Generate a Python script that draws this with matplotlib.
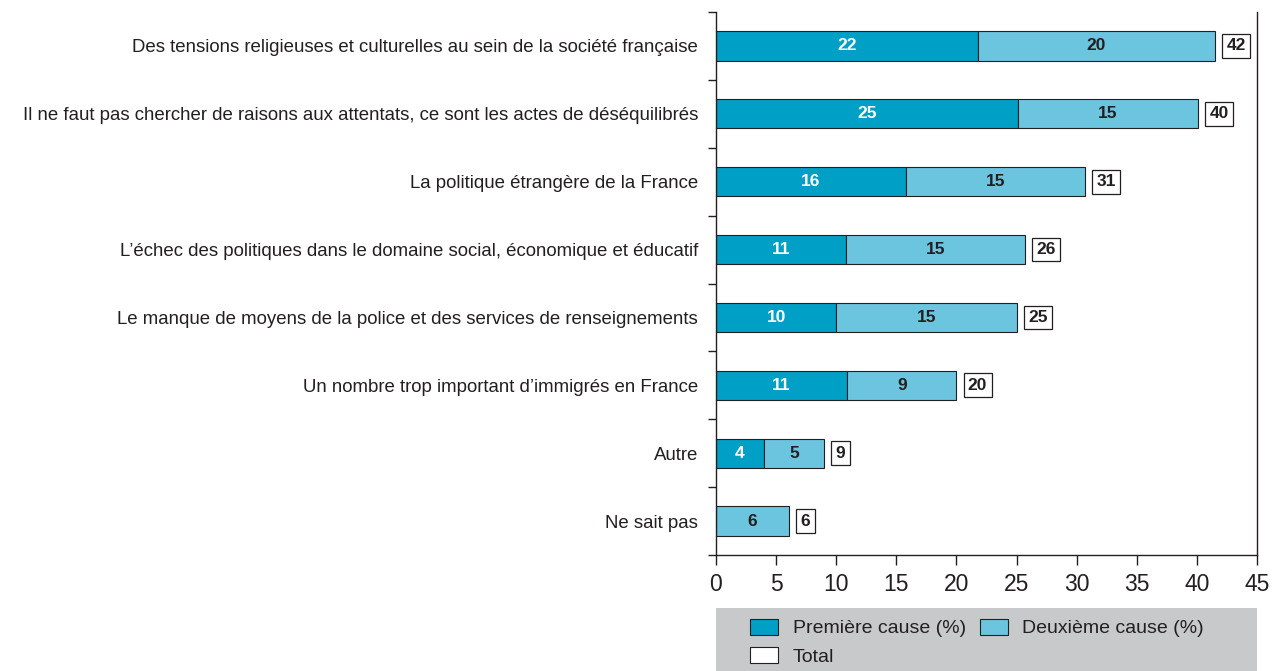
import numpy as np
import matplotlib.pyplot as plt
from matplotlib.patches import Patch, Rectangle

plt.rcParams['font.family'] = ['Liberation Sans', 'DejaVu Sans']

categories = [
    "Des tensions religieuses et culturelles au sein de la société française",
    "Il ne faut pas chercher de raisons aux attentats, ce sont les actes de déséquilibrés",
    "La politique étrangère de la France",
    "L\u2019échec des politiques dans le domaine social, économique et éducatif",
    "Le manque de moyens de la police et des services de renseignements",
    "Un nombre trop important d\u2019immigrés en France",
    "Autre",
    "Ne sait pas",
]
# bar lengths
premiere = [21.8, 25.1, 15.8, 10.8, 10.0, 10.9, 4.0, 0.0]
deuxieme = [19.7, 15.0, 14.9, 14.9, 15.0, 9.1, 5.0, 6.1]
# printed labels
premiere_lbl = [22, 25, 16, 11, 10, 11, 4, None]
deuxieme_lbl = [20, 15, 15, 15, 15, 9, 5, 6]
total_lbl = [42, 40, 31, 26, 25, 20, 9, 6]

dark = '#00a0c6'
light = '#6cc5de'
ink = '#231f20'

fig = plt.figure(figsize=(12.75, 6.71), dpi=100)
ax = fig.add_axes([716/1275, 1-555/671, (1257-716)/1275, (555-12)/671])

y = np.arange(len(categories))
p1 = np.array(premiere)
p2 = np.array(deuxieme)
h = 0.43
for i in range(len(y)):
    if p1[i] > 0:
        ax.barh(y[i], p1[i], height=h, color=dark, edgecolor=ink, linewidth=0.8)
    ax.barh(y[i], p2[i], left=p1[i], height=h, color=light, edgecolor=ink, linewidth=0.8)
    if premiere_lbl[i] is not None:
        ax.text(p1[i]/2, y[i], str(premiere_lbl[i]), ha='center', va='center',
                color='white', fontsize=12.5, fontweight='bold')
    ax.text(p1[i] + p2[i]/2, y[i], str(deuxieme_lbl[i]), ha='center', va='center',
            color=ink, fontsize=12.5, fontweight='bold')
    ax.text(p1[i] + p2[i] + 0.95, y[i], str(total_lbl[i]), ha='left', va='center',
            color=ink, fontsize=12.5, fontweight='bold',
            bbox=dict(boxstyle='square,pad=0.25', fc='white', ec=ink, lw=0.9))

ax.set_xlim(0, 45)
ax.set_ylim(len(categories) - 0.5, -0.5)
ax.set_xticks(np.arange(0, 46, 5))
ax.set_yticks(np.arange(-0.5, len(categories), 1))
ax.set_yticklabels([])
ax.set_yticks(y, minor=True)
ax.set_yticklabels(categories, minor=True, fontsize=13.4, color=ink)
ax.tick_params(axis='y', which='minor', length=0, pad=13)
ax.tick_params(axis='y', which='major', length=6, width=1, color=ink, direction='out')
ax.tick_params(axis='x', length=7, width=1, color=ink, labelsize=16.5, labelcolor=ink, pad=6)
ax.spines['top'].set_visible(False)
for s in ['left', 'right', 'bottom']:
    ax.spines[s].set_color(ink)
    ax.spines[s].set_linewidth(1)

# grey legend panel
fig.patches.append(Rectangle((716/1275, 0), (1257-716)/1275, 1-608/671,
                             transform=fig.transFigure, fc='#c8c9cb', ec='none', zorder=0))
handles = [Patch(fc=dark, ec=ink, lw=0.8), Patch(fc='white', ec=ink, lw=0.8),
           Patch(fc=light, ec=ink, lw=0.8)]
labels = ['Première cause (%)', 'Total', 'Deuxième cause (%)']
fig.legend(handles, labels, loc='upper left', bbox_to_anchor=(750/1275, 1-619/671),
           ncol=2, frameon=False, fontsize=14, handlelength=1.45, handleheight=0.85,
           columnspacing=0.7, handletextpad=0.75, labelspacing=0.5, borderpad=0,
           borderaxespad=0, labelcolor=ink)

fig.savefig('out.png', dpi=100)
